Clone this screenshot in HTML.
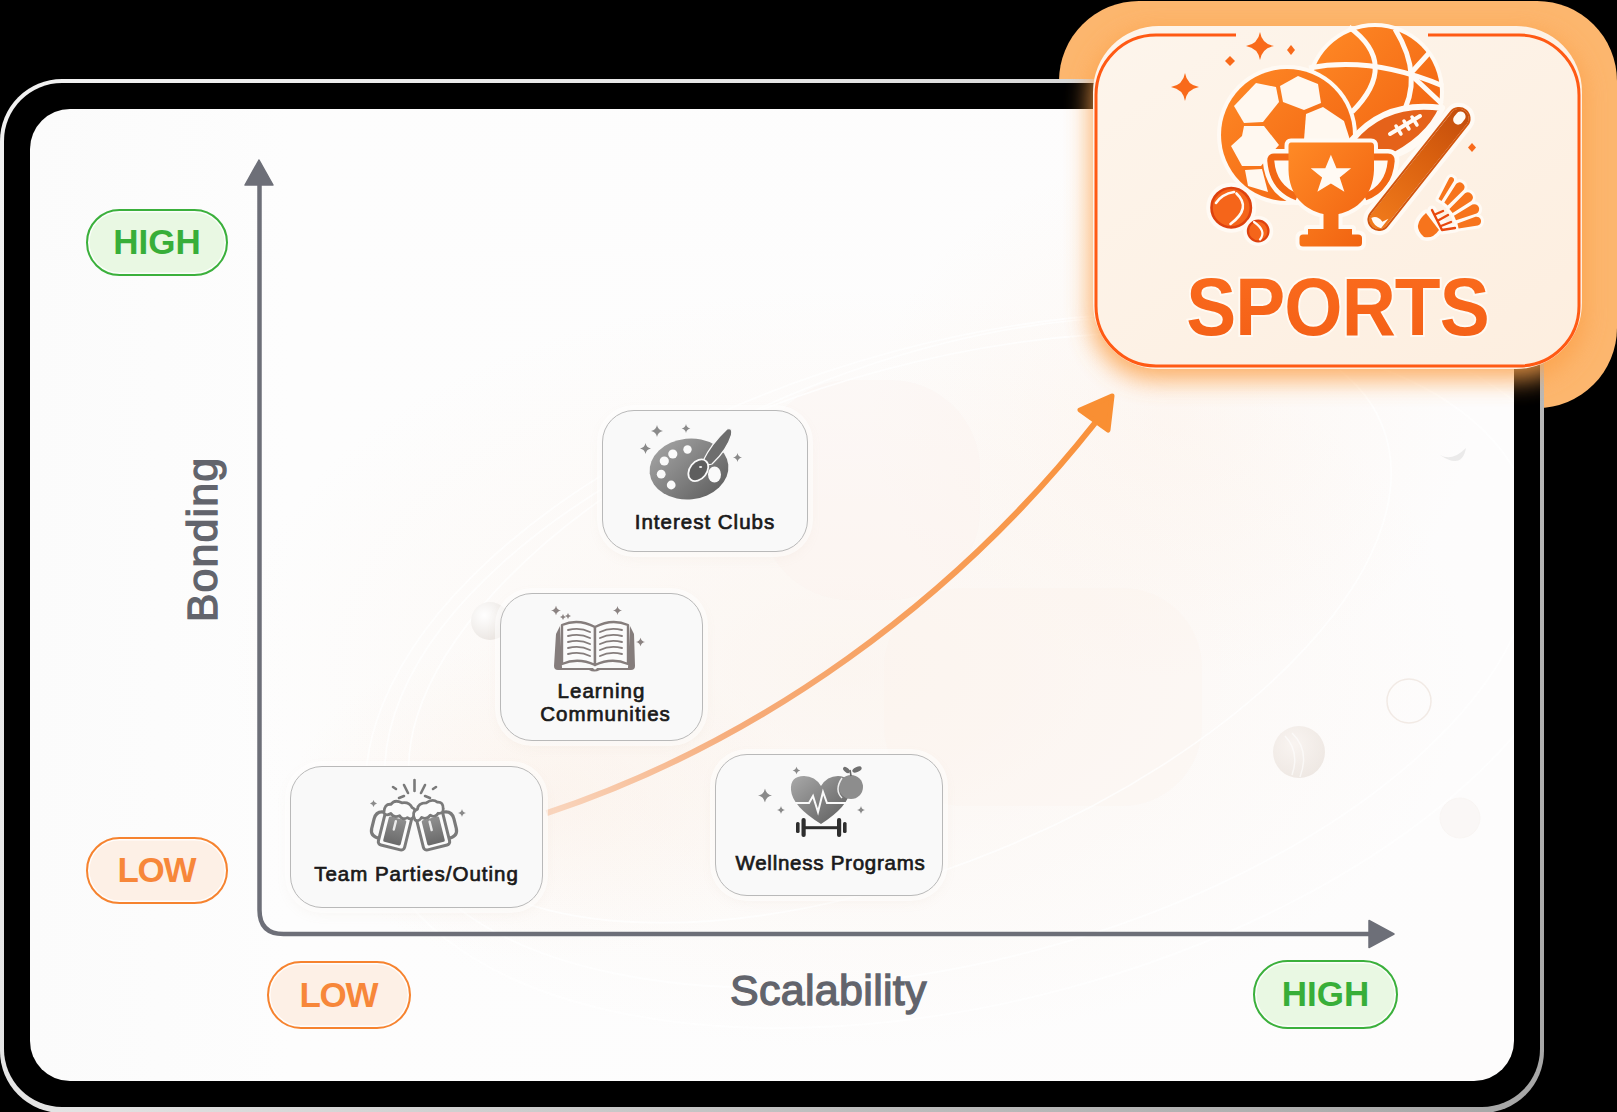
<!DOCTYPE html>
<html><head><meta charset="utf-8">
<style>
*{margin:0;padding:0;box-sizing:border-box}
html,body{width:1617px;height:1112px;overflow:hidden;background:#000}
body{position:relative;font-family:"Liberation Sans",sans-serif}
.abs{position:absolute}
#glow{left:1059px;top:1px;width:558px;height:407px;border-radius:80px;background:#fcb66e}
#frame{left:0;top:79px;width:1544px;height:1034px;border-radius:62px;background:linear-gradient(127deg,#f2f2f2 0%,#e4e4e4 35%,#bdbdbd 70%,#a6a6a6 100%)}
#bezel{left:4px;top:83px;width:1536px;height:1024px;border-radius:58px;background:#000}
#card{left:30px;top:109px;width:1484px;height:972px;border-radius:40px;overflow:hidden;
background:
radial-gradient(ellipse 300px 260px at 1140px 310px, rgba(252,226,204,0.2), rgba(252,226,204,0) 100%),
radial-gradient(ellipse 620px 380px at 820px 560px, rgba(250,236,224,0.42), rgba(250,236,224,0) 100%),
radial-gradient(ellipse 260px 160px at 520px 690px, rgba(250,230,214,0.3), rgba(250,230,214,0) 100%),
linear-gradient(90deg,#fbfbfb 0,#fdfdfd 260px,#fdfcfc 100%)}
.pill{position:absolute;border-radius:40px;border:2.8px solid;font-weight:bold;font-size:35px;text-align:center;box-shadow:inset 0 0 0 1.5px rgba(255,255,255,0.85)}
.green{border-color:#3bb03c;color:#38ae39;background:#e9f8e3}
.orange{border-color:#f6832f;color:#f7873a;background:#fdf0e6;letter-spacing:-1.4px;text-indent:-1.4px}
.box{position:absolute;border:1.5px solid #b9b9b9;border-radius:32px;background:#f9f9f9;box-shadow:0 0 0 5px rgba(255,255,255,0.55),0 4px 14px rgba(200,170,150,0.12);color:#1a1a1a;font-weight:normal;-webkit-text-stroke:0.7px #1a1a1a;font-size:20.5px;text-align:center;letter-spacing:1px}
.lbl{position:absolute;white-space:nowrap;font-weight:normal;-webkit-text-stroke:1.3px #62646c;color:#62646c}
#sports{left:1093px;top:25px;width:490px;height:343px;border-radius:68px;background:#fdf2e6}
</style></head>
<body>
<div id="glow" class="abs"></div>
<div id="frame" class="abs"></div>
<div id="bezel" class="abs"></div>
<div id="card" class="abs"></div>

<svg class="abs" style="left:0;top:0" width="1617" height="1112" viewBox="0 0 1617 1112">
  <defs>
    <clipPath id="cardclip"><rect x="30" y="109" width="1484" height="972" rx="40"/></clipPath>
    <radialGradient id="ballf" cx="0.35" cy="0.35" r="0.7"><stop offset="0" stop-color="#ffffff"/><stop offset="1" stop-color="#e9e4e0"/></radialGradient>
    <radialGradient id="ballt" cx="0.4" cy="0.35" r="0.7"><stop offset="0" stop-color="#f6efea"/><stop offset="1" stop-color="#e2d8d0"/></radialGradient>
  </defs>
  <g clip-path="url(#cardclip)">
    <rect x="884" y="588" width="318" height="218" rx="80" fill="#fbf1ea" opacity="0.3"/>
    <rect x="760" y="380" width="220" height="220" rx="90" fill="#fbf1ea" opacity="0.25"/>
    <g fill="none" stroke="#ffffff" stroke-width="1.6" opacity="0.8">
      <ellipse cx="960" cy="660" rx="590" ry="300" transform="rotate(-15 960 660)"/>
      <ellipse cx="980" cy="670" rx="630" ry="330" transform="rotate(-15 980 670)"/>
      <ellipse cx="900" cy="620" rx="520" ry="250" transform="rotate(-22 900 620)"/>
    </g>
    <circle cx="490" cy="621" r="19" fill="url(#ballf)" opacity="0.9"/>
    <circle cx="1299" cy="752" r="26" fill="url(#ballt)" opacity="0.55"/>
    <path d="M1285 736 Q1300 752 1292 775 M1292 733 Q1310 750 1300 777" stroke="#fff" stroke-width="1.5" fill="none" opacity="0.6"/>
    <circle cx="1409" cy="701" r="22" fill="none" stroke="#efe6e0" stroke-width="1.5" opacity="0.8"/>
    <circle cx="1460" cy="818" r="20" fill="#f5efeb" opacity="0.35" stroke="#f1e9e4" stroke-width="1"/>
    <path d="M1440 455 Q1462 470 1466 448 Q1452 462 1440 455 Z" fill="#e2e2e2" opacity="0.7"/>
  </g>
</svg>
<svg class="abs" style="left:0;top:0" width="1617" height="1112" viewBox="0 0 1617 1112">
  <!-- axes -->
  <path d="M259.5 182 V910 Q259.5 934 283.5 934 H1372" fill="none" stroke="#6d6f78" stroke-width="4.5"/>
  <path d="M259 160 L245 185 L273 185 Z" fill="#6d6f78" stroke="#6d6f78" stroke-width="1.5" stroke-linejoin="round"/>
  <path d="M1394 934 L1369 920.5 L1369 947.5 Z" fill="#6d6f78" stroke="#6d6f78" stroke-width="1.5" stroke-linejoin="round"/>
  <defs>
    <linearGradient id="arrg" gradientUnits="userSpaceOnUse" x1="546" y1="813" x2="1100" y2="420">
      <stop offset="0" stop-color="#f9d6bf"/><stop offset="0.3" stop-color="#f6ac7a"/><stop offset="1" stop-color="#f9913a"/>
    </linearGradient>
  </defs>
  <path d="M546.6 813.2 C759.8 742.3 954.1 601.3 1095 423" fill="none" stroke="url(#arrg)" stroke-width="6"/>
  <path d="M1112 396 L1080 410 L1108 430 Z" fill="#f98f33" stroke="#f98f33" stroke-width="5" stroke-linejoin="round"/>
</svg>

<div class="pill green" style="left:86px;top:209px;width:142px;height:67px;line-height:62px">HIGH</div>
<div class="pill orange" style="left:86px;top:837px;width:142px;height:67px;line-height:62px">LOW</div>
<div class="pill orange" style="left:267px;top:961px;width:144px;height:68px;line-height:63px">LOW</div>
<div class="pill green" style="left:1253px;top:960px;width:145px;height:69px;line-height:64px">HIGH</div>

<div class="lbl" style="left:730px;top:966px;font-size:43px;letter-spacing:0.3px">Scalability</div>
<div class="lbl" style="left:120px;top:515px;font-size:43px;letter-spacing:1.1px;transform:rotate(-90deg);transform-origin:center">Bonding</div>

<div class="box" style="left:602px;top:410px;width:206px;height:142px"><div style="position:absolute;left:0;right:0;top:99px">Interest Clubs</div></div>
<div class="box" style="left:500px;top:593px;width:203px;height:148px"><div style="position:absolute;left:0;right:0;top:84.5px;line-height:23.5px">Learning<br><span style="position:relative;left:4px">Communities</span></div></div>
<div class="box" style="left:290px;top:766px;width:253px;height:142px"><div style="position:absolute;left:0;right:0;top:94.5px">Team Parties/Outing</div></div>
<div class="box" style="left:715px;top:754px;width:228px;height:142px"><div style="position:absolute;left:0;right:0;top:95.5px;letter-spacing:0.75px;padding-left:3px">Wellness Programs</div></div>

<svg class="abs" style="left:0;top:0" width="1617" height="1112" viewBox="0 0 1617 1112">
  <defs>
    <linearGradient id="gg1" x1="0" y1="0" x2="1" y2="1">
      <stop offset="0" stop-color="#a9a9a9"/><stop offset="1" stop-color="#5a5a5a"/>
    </linearGradient>
    <linearGradient id="gg2" x1="0" y1="0" x2="0" y2="1">
      <stop offset="0" stop-color="#8f8f8f"/><stop offset="1" stop-color="#6a6a6a"/>
    </linearGradient>
    <symbol id="spk" viewBox="-10 -10 20 20"><path d="M0 -10 Q1.5 -1.5 10 0 Q1.5 1.5 0 10 Q-1.5 1.5 -10 0 Q-1.5 -1.5 0 -10 Z"/></symbol>
  </defs>
  <!-- palette -->
  <g>
    <ellipse cx="689" cy="469" rx="39.5" ry="30.5" transform="rotate(-6 689 469)" fill="url(#gg1)"/>
    <g fill="#fafafa">
      <circle cx="687.5" cy="449.5" r="4.2"/><circle cx="672.8" cy="454" r="4.6"/><circle cx="664.3" cy="461" r="4.6"/><circle cx="661.2" cy="474.2" r="4.4"/><circle cx="671.2" cy="485" r="4.4"/>
      <ellipse cx="714.5" cy="474.5" rx="6.5" ry="8"/>
    </g>
    <path d="M727 429 Q733 427 731.5 435 Q727 450 712 464 Q706 466 703 461 Q711 444 727 429 Z" fill="#6e6e6e" stroke="#fafafa" stroke-width="1.2"/>
    <ellipse cx="698.3" cy="470.3" rx="8.5" ry="12" transform="rotate(38 698.3 470.3)" fill="#5e5e5e" stroke="#fafafa" stroke-width="1.8"/>
    <ellipse cx="700.6" cy="467" rx="1.6" ry="1" fill="#eee"/>
    <g fill="#8a8a8a">
      <use href="#spk" x="651" y="425" width="12" height="12"/>
      <use href="#spk" x="681.5" y="424" width="9" height="9"/>
      <use href="#spk" x="640" y="443" width="11" height="11"/>
      <use href="#spk" x="733" y="453" width="9" height="9"/>
    </g>
  </g>
  <!-- book -->
  <g>
    <path d="M556 634 L560 626 L562 668 L593 668 Q595 671 597 668 L628 668 L630 626 L634 634 L635 666 Q635 670 631 670 L600 670 Q594 673 589 670 L558 670 Q554 670 554 666 Z" fill="#857d7c"/>
    <path d="M562 625 Q578 618 595 627 L595 665 Q578 657 562 664 Z" fill="#fbfbfb" stroke="#857d7c" stroke-width="2.4" stroke-linejoin="round"/>
    <path d="M628 625 Q612 618 595 627 L595 665 Q612 657 628 664 Z" fill="#fbfbfb" stroke="#857d7c" stroke-width="2.4" stroke-linejoin="round"/>
    <g fill="none" stroke="#857d7c" stroke-width="1.9" stroke-linecap="round">
      <path d="M568 630 Q580 627 590 632 M568 636 Q580 633 590 638 M568 642 Q580 639 590 644 M568 648 Q580 645 590 650 M568 654 Q580 651 590 656"/>
      <path d="M622 630 Q610 627 600 632 M622 636 Q610 633 600 638 M622 642 Q610 639 600 644 M622 648 Q610 645 600 650 M622 654 Q610 651 600 656"/>
    </g>
    <g fill="#8b8382">
      <use href="#spk" x="551" y="605.5" width="10" height="10"/>
      <use href="#spk" x="560" y="614" width="6" height="6"/>
      <use href="#spk" x="565" y="613" width="6" height="6"/>
      <use href="#spk" x="613" y="606" width="9" height="9"/>
      <use href="#spk" x="636" y="637.5" width="9" height="9"/>
    </g>
  </g>
  <!-- beers -->
  <g>
    <g transform="rotate(14 395 830)">
      <path d="M382 815 Q372 815 372 824 L372 834 Q372 842 382 842" fill="none" stroke="#7a7a7a" stroke-width="3.2"/>
      <rect x="381.5" y="810" width="27" height="38" rx="3.5" fill="#fbfbfb" stroke="#7a7a7a" stroke-width="3"/>
      <rect x="386" y="818" width="18" height="26" rx="1.5" fill="url(#gg2)"/>
      <rect x="392.5" y="820" width="2.4" height="11" rx="1.2" fill="#eaeaea"/>
      <path d="M380 816 Q378 807 385 806 Q387 800 395 802 Q402 799 406 804 Q412 805 410 812 Q409 817 404 815 Q400 819 396 815 Q391 819 387 815 Q383 819 380 816 Z" fill="#fbfbfb" stroke="#7a7a7a" stroke-width="2.8" stroke-linejoin="round"/>
    </g>
    <g transform="rotate(-14 433 830)">
      <path d="M446 815 Q456 815 456 824 L456 834 Q456 842 446 842" fill="none" stroke="#7a7a7a" stroke-width="3.2"/>
      <rect x="419.5" y="810" width="27" height="38" rx="3.5" fill="#fbfbfb" stroke="#7a7a7a" stroke-width="3"/>
      <rect x="424" y="818" width="18" height="26" rx="1.5" fill="url(#gg2)"/>
      <rect x="430.5" y="820" width="2.4" height="11" rx="1.2" fill="#eaeaea"/>
      <path d="M418 816 Q416 807 423 806 Q425 800 433 802 Q440 799 444 804 Q450 805 448 812 Q447 817 442 815 Q438 819 434 815 Q429 819 425 815 Q421 819 418 816 Z" fill="#fbfbfb" stroke="#7a7a7a" stroke-width="2.8" stroke-linejoin="round"/>
    </g>
    <g stroke="#7a7a7a" stroke-width="2.6" stroke-linecap="round">
      <path d="M414.5 780 V791 M404 785 L408 793 M425 785 L421 793 M399 798 L404 796 M430 798 L425 796 M393 787 L396 789 M436 787 L433 789"/>
    </g>
    <g fill="#8a8a8a">
      <use href="#spk" x="370" y="800" width="7" height="7"/>
      <use href="#spk" x="458" y="809" width="8" height="8"/>
    </g>
  </g>
  <!-- heart -->
  <g>
    <path d="M821 824 Q792 806 791 790 Q790 776 804 776 Q815 776 821 786 Q827 776 838 776 Q851 776 850 790 Q849 806 821 824 Z" fill="url(#gg1)"/>
    <path d="M793 803 H809 L813 796 L818 812 L823 792 L827 803 H849" fill="none" stroke="#fafafa" stroke-width="2"/>
    <circle cx="851" cy="787" r="12" fill="#8d8d8d"/><path d="M842 778 Q834 790 842 798" stroke="#eee" stroke-width="1.5" fill="none"/>
    <path d="M851 776 L850 770" stroke="#666" stroke-width="1.6" fill="none"/><ellipse cx="846.5" cy="770" rx="4" ry="2.2" transform="rotate(40 846.5 770)" fill="#707070"/><ellipse cx="857" cy="769.5" rx="5" ry="2.4" transform="rotate(-25 857 769.5)" fill="#707070"/>
    <g fill="#2e2e2e">
      <rect x="796" y="822" width="3.6" height="11" rx="1.6"/>
      <rect x="801.5" y="818" width="4.2" height="19" rx="2"/>
      <rect x="805" y="826.2" width="33" height="3" />
      <rect x="837" y="818" width="4.2" height="19" rx="2"/>
      <rect x="843" y="822" width="3.6" height="11" rx="1.6"/>
    </g>
    <g fill="#8a8a8a">
      <use href="#spk" x="758" y="788.5" width="14" height="14"/>
      <use href="#spk" x="792.5" y="766.5" width="8" height="8"/>
      <use href="#spk" x="777" y="806" width="8" height="8"/>
      <use href="#spk" x="857" y="806" width="8" height="8"/>
    </g>
  </g>
</svg>
<svg class="abs" style="left:0;top:0" width="1617" height="1112" viewBox="0 0 1617 1112">
  <defs>
    <filter id="sblur" x="-30%" y="-30%" width="160%" height="160%"><feGaussianBlur stdDeviation="12"/></filter>
    <linearGradient id="cardg" x1="0" y1="0" x2="1" y2="1">
      <stop offset="0" stop-color="#fdf5ec"/><stop offset="1" stop-color="#fdeedf"/>
    </linearGradient>
    <linearGradient id="og" x1="0" y1="0" x2="1" y2="1">
      <stop offset="0" stop-color="#ff8a26"/><stop offset="1" stop-color="#f0600f"/>
    </linearGradient>
    <linearGradient id="batg" x1="0" y1="0" x2="1" y2="0">
      <stop offset="0" stop-color="#f27c1c"/><stop offset="0.6" stop-color="#d9600f"/><stop offset="1" stop-color="#c24c0c"/>
    </linearGradient>
    <linearGradient id="ballg" x1="0" y1="0" x2="1" y2="1">
      <stop offset="0" stop-color="#f26a1a"/><stop offset="1" stop-color="#cf4a10"/>
    </linearGradient>
    <linearGradient id="txtg" x1="0" y1="0" x2="0" y2="1">
      <stop offset="0" stop-color="#fb6c1e"/><stop offset="1" stop-color="#f35f16"/>
    </linearGradient>
  </defs>
  <rect x="1090" y="30" width="495" height="350" rx="66" fill="#fca24c" filter="url(#sblur)" opacity="0.85"/>
  <rect x="1093" y="26" width="489" height="343" rx="66" fill="url(#cardg)"/>
  <path d="M1428 35 H1519 A60 60 0 0 1 1579 95 V306 A60 60 0 0 1 1519 366 H1156 A60 60 0 0 1 1096 306 V95 A60 60 0 0 1 1156 35 H1236" fill="none" stroke="#ff5a14" stroke-width="3"/>
  <text x="1337.5" y="335.3" text-anchor="middle" transform="translate(1337.5 0) scale(0.925 1) translate(-1337.5 0)" font-family="Liberation Sans" font-weight="bold" font-size="81" letter-spacing="-1" fill="url(#txtg)" stroke="#fffaf3" stroke-width="4" paint-order="stroke">SPORTS</text>
  <g stroke-linejoin="round" stroke-linecap="round">
    <!-- basketball -->
    <circle cx="1375" cy="92" r="69" fill="#fffaf4"/><circle cx="1375" cy="92" r="65" fill="url(#og)"/>
    <g fill="none" stroke="#fffaf4" stroke-width="5" stroke-linecap="butt">
      <path d="M1309 68 Q1372 56 1443 86"/>
      <path d="M1349 27 Q1400 64 1352 112"/>
      <path d="M1395 29 Q1425 78 1400 118"/>
      <path d="M1430 52 L1410 74 L1442 104"/>
    </g>
    <!-- soccer ball -->
    <circle cx="1287" cy="135" r="70" fill="#fffaf4"/><circle cx="1287" cy="135" r="66" fill="url(#og)"/>
    <g fill="#fff8f0" stroke="none">
      <path d="M1234 106 L1256 83 L1276 87 L1279 102 L1263 122 L1244 123 Z"/>
      <path d="M1280 86 L1298 76 L1318 84 L1321 103 L1304 110 L1283 102 Z"/>
      <path d="M1306 114 L1323 107 L1344 121 L1350 140 L1304 140 Z"/>
      <path d="M1244 126 L1264 126 L1279 145 L1270 155 L1261 166 L1242 166 L1231 146 L1242 136 Z"/>
      <path d="M1245 170 L1262 169 L1268 192 L1248 186 Z"/>
    </g>
    <!-- football -->
    <path d="M1352 140 Q1385 100 1442 108 Q1428 140 1385 160 Q1365 162 1352 140 Z" fill="#e5621a" stroke="#fffaf4" stroke-width="6"/>
    <path d="M1390 134 L1420 116" stroke="#fffaf4" stroke-width="4" fill="none"/>
    <path d="M1396 126 l5 8 M1404 121 l5 8 M1412 117 l5 8" stroke="#fffaf4" stroke-width="3.5" fill="none"/>
    <!-- trophy outline -->
    <g stroke="#fffaf4" fill="#fffaf4">
      <path d="M1291 142.4 H1371 Q1374 142.4 1374 146 V170 C1373 196 1357 210 1338.5 214 V229 H1352 V234.5 H1358 Q1362 234.5 1362 238 V243 Q1362 246.5 1358 246.5 H1303 Q1299.5 246.5 1299.5 243 V238 Q1299.5 234.5 1303 234.5 H1308 V229 H1323.5 V214 C1305 210 1289 196 1288.5 170 V146 Q1288.5 142.4 1291 142.4 Z" stroke-width="8"/>
      <path d="M1289 157 H1274 Q1270.5 157 1270.8 161 Q1273 188 1297 197 Z" stroke-width="16"/>
      <path d="M1373 157 H1388 Q1391.5 157 1391.2 161 Q1389 188 1365 197 Z" stroke-width="16"/>
    </g>
    <g>
      <path d="M1289 157 H1274 Q1270.5 157 1270.8 161 Q1273 188 1297 197" fill="none" stroke="#f26814" stroke-width="7" stroke-linecap="butt"/>
      <path d="M1373 157 H1388 Q1391.5 157 1391.2 161 Q1389 188 1365 197" fill="none" stroke="#f26814" stroke-width="7" stroke-linecap="butt"/>
      <path d="M1291 142.4 H1371 Q1374 142.4 1374 146 V170 C1373 196 1357 210 1338.5 214 V229 H1352 V234.5 H1358 Q1362 234.5 1362 238 V243 Q1362 246.5 1358 246.5 H1303 Q1299.5 246.5 1299.5 243 V238 Q1299.5 234.5 1303 234.5 H1308 V229 H1323.5 V214 C1305 210 1289 196 1288.5 170 V146 Q1288.5 142.4 1291 142.4 Z" fill="url(#og)"/>
      <path d="M1330.9 154.7 L1336.5 168.2 L1351.1 168.2 L1339.7 177.5 L1344.4 191.8 L1330.9 183.5 L1317.4 191.8 L1322.1 177.5 L1310.7 168.2 L1325.3 168.2 Z" fill="#fffaf4"/>
    </g>
    <!-- bat -->
    <g transform="translate(1419 169) rotate(-51.6)">
      <rect x="-77" y="-12.5" width="154" height="25" rx="12" fill="url(#batg)" stroke="#fffaf4" stroke-width="6"/>
      <rect x="-75" y="-10.5" width="150" height="21" rx="10.5" fill="none" stroke="#d2560e" stroke-width="2"/>
      <rect x="58" y="-5" width="14" height="10" rx="5" fill="#fffaf4"/>
      <path d="M-68 -7 Q-62 -4 -64 4 L-58 7 L-70 7 Q-73 0 -68 -7 Z" fill="#fffaf4"/>
    </g>
    <!-- cricket balls -->
    <circle cx="1231.2" cy="207.7" r="25" fill="#fffaf4"/>
    <circle cx="1231.2" cy="207.7" r="19.7" fill="#f5651a" stroke="#de420e" stroke-width="2.6"/>
    <path d="M1216 203 Q1222 194 1234 192" stroke="#fffaf4" stroke-width="2.6" fill="none"/>
    <path d="M1236.5 193.5 Q1252 208 1230.5 224" stroke="#fffaf4" stroke-width="2.6" fill="none"/>
    <circle cx="1258.2" cy="231" r="15" fill="#fffaf4"/>
    <circle cx="1258.2" cy="231" r="10.3" fill="#f5651a" stroke="#de420e" stroke-width="2.2"/>
    <path d="M1254 222 Q1267 231 1260 239.5" stroke="#fffaf4" stroke-width="2.2" fill="none"/>
    <!-- shuttlecock -->
    <path d="M1441.5 200.9 L1454.0 180.7 A2.8 2.8 0 0 0 1449.3 178.0 L1438.5 199.1 Z M1447.7 205.4 L1463.7 189.7 A4.8 4.8 0 0 0 1456.3 183.7 L1444.3 202.6 Z M1452.6 212.9 L1471.3 201.0 A5.0 5.0 0 0 0 1465.0 193.3 L1449.4 209.1 Z M1456.0 220.3 L1476.5 213.6 A5.0 5.0 0 0 0 1472.4 204.5 L1454.0 215.7 Z M1458.6 228.4 L1477.8 225.5 A4.5 4.5 0 0 0 1475.5 216.8 L1457.4 223.6 Z" fill="#fffaf4" stroke="#fffaf4" stroke-width="6" stroke-linejoin="round"/>
    <path d="M1426 214 Q1412 226 1424 236 Q1432 238 1438 230 Z M1432 210 L1442 230 L1455 228" stroke="#fffaf4" stroke-width="9" fill="#fffaf4"/>
    <path d="M1441.5 200.9 L1454.0 180.7 A2.8 2.8 0 0 0 1449.3 178.0 L1438.5 199.1 Z M1447.7 205.4 L1463.7 189.7 A4.8 4.8 0 0 0 1456.3 183.7 L1444.3 202.6 Z M1452.6 212.9 L1471.3 201.0 A5.0 5.0 0 0 0 1465.0 193.3 L1449.4 209.1 Z M1456.0 220.3 L1476.5 213.6 A5.0 5.0 0 0 0 1472.4 204.5 L1454.0 215.7 Z M1458.6 228.4 L1477.8 225.5 A4.5 4.5 0 0 0 1475.5 216.8 L1457.4 223.6 Z" fill="#f7741c"/>
    <path d="M1432 210 L1442 230 L1455 228 M1436 214 L1443 211 M1439 220 L1448 215 M1441 226 L1451 222" stroke="#e8480e" stroke-width="2.4" fill="none"/>
    <path d="M1426 213 Q1411 226 1424 237 Q1433 239 1439 230 Z" fill="#f7741c"/>
  </g>
  <g fill="#f96a1a">
    <path d="M1260 32 Q1262 44 1274 46 Q1262 48 1260 60 Q1258 48 1246 46 Q1258 44 1260 32 Z"/>
    <path d="M1185 73 Q1187 85 1199 87 Q1187 89 1185 101 Q1183 89 1171 87 Q1183 85 1185 73 Z"/>
    <path d="M1230 56 L1235 61 L1230 66 L1225 61 Z"/>
    <path d="M1291 45 L1295 50 L1291 55 L1287 50 Z"/>
    <path d="M1472 143 L1476 147.5 L1472 152 L1468 147.5 Z"/>
  </g>
</svg>
</body></html>
